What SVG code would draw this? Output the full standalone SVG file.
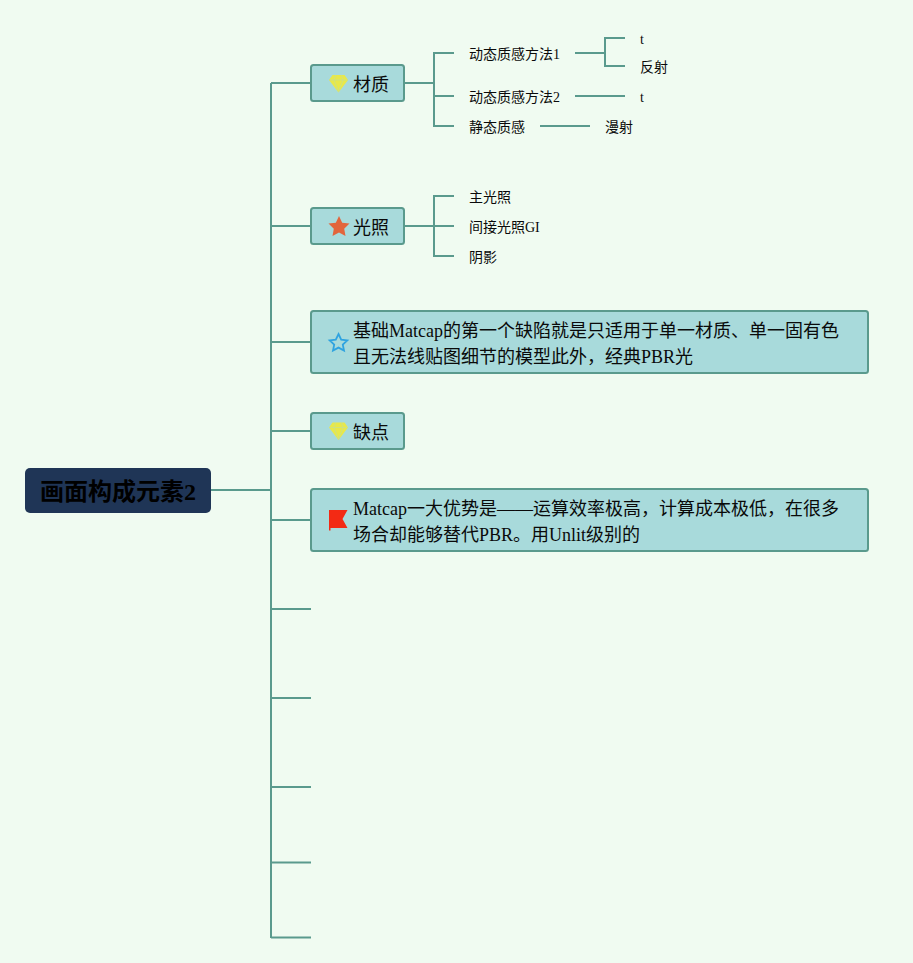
<svg xmlns="http://www.w3.org/2000/svg" width="913" height="963" viewBox="0 0 913 963">
<style>
text{font-family:"Liberation Serif","Noto Sans CJK SC",serif;fill:#0a0a0a}
.m{font-size:18px}.s{font-size:14px}.r{font-size:24px;font-weight:bold;fill:#000}
.b{fill:#a8dadb;stroke:#5a9a8d;stroke-width:2}
.c{fill:none;stroke:#5a9a8d;stroke-width:2}
.g{fill:#e8e84a}
</style>
<defs>
<g id="gem"><path class="g" d="M-6 -8.500H6L9.500 -3.500L0 9L-9.500 -3.500Z"/><path d="M-9 -3.500H9M-3 -8L-4.500 -3.500L0 8L4.500 -3.500L3 -8" fill="none" stroke="#c9e08a" stroke-width="0.800"/></g>
</defs>
<rect width="913" height="963" fill="#f0fbf1"/>
<g id="connectors" class="c">
<path d="M211 490H271M271 83V938M271 83H311M271 226H311M271 342H311M271 431H311M271 520H311M271 609H311M271 698H311M271 787H311M271 862.500H311M271 937.500H311"/>
<path d="M404 83H434M454 53H434V126H454M434 96H454"/>
<path d="M575 53H605M625 38H605V66H625M575 96H625M540 126H590"/>
<path d="M404 226H454M454 196H434V256H454"/>
</g>
<g id="root"><rect x="25" y="468" width="186" height="45" rx="5" fill="#1f3556"/><text class="r" x="40" y="500">画面构成元素2</text></g>
<g id="n1"><rect class="b" x="311" y="65" width="93" height="36" rx="2.500"/><use href="#gem" x="338.500" y="83.500"/><text class="m" x="353" y="91">材质</text></g>
<g id="n2"><rect class="b" x="311" y="208" width="93" height="36" rx="2.500"/><path fill="#e2653c" d="M339 216L342.200 222.700L349.500 223.600L344.200 228.700L345.500 236L339 232.500L332.500 236L333.800 228.700L328.500 223.600L335.800 222.700Z"/><text class="m" x="353" y="234">光照</text></g>
<g id="n3"><rect class="b" x="311" y="311" width="557" height="62" rx="2.500"/><path fill="none" stroke="#2fa3e0" stroke-width="1.800" d="M338.500 334L341.200 339.600L347.300 340.400L342.800 344.600L344 350.500L338.500 347.600L333 350.500L334.200 344.600L329.700 340.400L335.800 339.600Z"/><text class="m" x="353" y="337">基础Matcap的第一个缺陷就是只适用于单一材质、单一固有色</text><text class="m" x="353" y="363">且无法线贴图细节的模型此外，经典PBR光</text></g>
<g id="n4"><rect class="b" x="311" y="413" width="93" height="36" rx="2.500"/><use href="#gem" x="338.500" y="431"/><text class="m" x="353" y="439">缺点</text></g>
<g id="n5"><rect class="b" x="311" y="489" width="557" height="62" rx="2.500"/><path fill="#f32a14" d="M329 510H347.500L342.500 519L347.500 528H330.500V530.500H329Z"/><text class="m" x="353" y="515">Matcap一大优势是——运算效率极高，计算成本极低，在很多</text><text class="m" x="353" y="541">场合却能够替代PBR。用Unlit级别的</text></g>
<g id="n11"><text class="s" x="469" y="59">动态质感方法1</text></g>
<g id="n12"><text class="s" x="469" y="102">动态质感方法2</text></g>
<g id="n13"><text class="s" x="469" y="132">静态质感</text></g>
<g id="n111"><text class="s" x="640" y="44">t</text></g>
<g id="n112"><text class="s" x="640" y="72">反射</text></g>
<g id="n121"><text class="s" x="640" y="102">t</text></g>
<g id="n131"><text class="s" x="605" y="132">漫射</text></g>
<g id="n21"><text class="s" x="469" y="202">主光照</text></g>
<g id="n22"><text class="s" x="469" y="232">间接光照GI</text></g>
<g id="n23"><text class="s" x="469" y="262">阴影</text></g>
</svg>
